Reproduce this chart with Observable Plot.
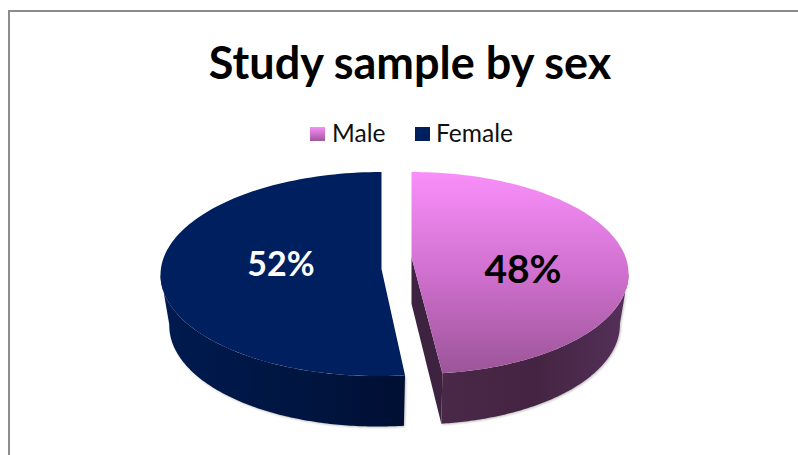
<!DOCTYPE html>
<html>
<head>
<meta charset="utf-8">
<script src="https://cdn.jsdelivr.net/npm/d3@7"></script>
<script src="https://cdn.jsdelivr.net/npm/@observablehq/plot@0.6"></script>
<style>
  html, body { margin: 0; padding: 0; background: #fff; overflow: hidden; }
  #page { position: relative; width: 798px; height: 455px; overflow: hidden; font-family: Lato, sans-serif; }
  #frame { position: absolute; left: 8px; top: 10px; right: 0; bottom: 0; border-left: 2px solid #8c8c8c; border-top: 2px solid #8c8c8c; }
  #title { position: absolute; left: 0; width: 820px; top: 36px; text-align: center; font-size: 45px; font-weight: 700; line-height: 52px; color: #000; }
  .lg { position: absolute; top: 118px; font-size: 24.6px; line-height: 30px; color: #111; }
  .sw { position: absolute; top: 127px; width: 15px; height: 14px; }
  #chart { position: absolute; left: 0; top: 155px; }
  #chart svg { display: block; }
</style>
</head>
<body>
<div id="page">
  <div id="frame"></div>
  <div id="title"></div>
  <div id="legend"></div>
  <div id="chart"></div>
</div>
<script>
const titleText = "Study sample by sex";
const categories = ["Male", "Female"];
const shares = [48, 52];
const labels = ["48%", "52%"];

document.getElementById("title").textContent = titleText;

// legend
const legendEl = d3.select("#legend");
const legendSw = [310, 415], legendTx = [332, 436];
const swFill = ["linear-gradient(#f78ff7,#a0569c)", "#001f5f"];
categories.forEach((c, i) => {
  legendEl.append("div").attr("class", "sw").style("left", legendSw[i] + "px").style("background", swFill[i]);
  legendEl.append("div").attr("class", "lg").style("left", legendTx[i] + "px").text(c);
});

// Per-slice look of the tilted pie, in pie units (1 = x radius of 219px)
const look = {
  Male:   {dir:  1, cx:  0.0685, cy: 0.0,   rx: 0.982, ry: 1.0,  apexY:  0.155, labelR: 0.51, labelY: -0.01, labelSize: 39, labelFill: "#000"},
  Female: {dir: -1, cx: -0.0685, cy: -0.01, rx: 1.0, ry: 1.01, apexY:  0.04,  labelR: 0.46, labelY: 0.05, labelSize: 34, labelFill: "#fff"}
};
const depth = 0.5, bottomScale = 0.96, spread = 0.018, steps = 120;

// angles clockwise from the top: male goes clockwise, female counterclockwise, both from the top
const sweep = d => d / d3.sum(shares) * 2 * Math.PI;

function pt(c, a, drop, scale) {
  const l = look[c];
  return {
    slice: c,
    u: l.cx + l.dir * (Math.sin(a) * l.rx * scale + spread * (1 - Math.cos(a)) / 2),
    v: l.cy + l.ry * Math.cos(a) - drop
  };
}
function arcPts(c, a0, a1, drop, scale) {
  return d3.range(steps + 1).map(i => pt(c, a0 + (a1 - a0) * i / steps, drop, scale));
}

const tops = [], outerWalls = [], innerWalls = [];
categories.forEach((c, i) => {
  const l = look[c], end = sweep(shares[i]);
  const apex = d => ({slice: c, u: l.cx, v: l.apexY - d});
  tops.push(apex(0), ...arcPts(c, 0, end, 0, 1));
  outerWalls.push(
    ...arcPts(c, Math.PI / 2, end, 0, 1),
    ...arcPts(c, end, Math.PI / 2, depth, bottomScale)
  );
  if (c === "Male") {
    innerWalls.push(apex(0), pt(c, end, 0, 1), pt(c, end, depth, bottomScale), apex(0.46));
  }
});

const labelData = categories.map((c, i) => {
  const l = look[c], mid = sweep(shares[i]) / 2;
  return {
    c, text: labels[i], size: l.labelSize, fill: l.labelFill,
    u: l.cx + l.dir * Math.sin(mid) * l.labelR,
    v: Math.cos(mid) * l.labelR * l.dir + l.labelY
  };
});

const defs = () => {
  const d = d3.create("svg:defs");
  const grad = (id, x2, y2, stops) => {
    const g = d.append("linearGradient").attr("id", id).attr("x1", 0).attr("y1", 0).attr("x2", x2).attr("y2", y2);
    stops.forEach(([o, col]) => g.append("stop").attr("offset", o).attr("stop-color", col));
  };
  grad("maleTop", 0, 1, [[0, "#f98ffa"], [0.5, "#d070cf"], [1, "#9c5598"]]);
  grad("maleWall", 1, 0, [[0, "#4a2847"], [0.5, "#442442"], [1, "#55305a"]]);
  grad("femaleWall", 1, 0, [[0, "#001a50"], [0.6, "#00153f"], [1, "#000f33"]]);
  return d.node();
};

const R = 219, Ry = 101, originX = 396, originY = 272.5 - 155;
const W = 798, H = 300;
const shadow = "drop-shadow(1px 1px 1px rgba(0,0,0,0.25))";
const sliceOf = (arr, c) => arr.filter(d => d.slice === c);

const plot = Plot.plot({
  width: W, height: H,
  margin: 0,
  x: {domain: [-originX / R, (W - originX) / R], range: [0, W], axis: null},
  y: {domain: [originY / Ry, (originY - H) / Ry], range: [0, H], axis: null},
  style: {background: "transparent"},
  marks: [
    defs,
    Plot.line(sliceOf(outerWalls, "Female"), {x: "u", y: "v", fill: "url(#femaleWall)", stroke: "none", curve: "linear", imageFilter: shadow}),
    Plot.line(sliceOf(tops, "Female"), {x: "u", y: "v", fill: "#001f5f", stroke: "none", curve: "linear"}),
    Plot.line(innerWalls, {x: "u", y: "v", fill: "#3e2340", stroke: "none", curve: "linear"}),
    Plot.line(sliceOf(outerWalls, "Male"), {x: "u", y: "v", fill: "url(#maleWall)", stroke: "none", curve: "linear", imageFilter: shadow}),
    Plot.line(sliceOf(tops, "Male"), {x: "u", y: "v", fill: "url(#maleTop)", stroke: "none", curve: "linear"}),
    Plot.text(labelData, {
      x: "u", y: "v", text: "text", fill: "fill", fontSize: "size",
      fontWeight: 700, fontFamily: "Lato, sans-serif", textAnchor: "middle", lineAnchor: "middle"
    })
  ]
});
document.getElementById("chart").append(plot);
</script>
</body>
</html>
